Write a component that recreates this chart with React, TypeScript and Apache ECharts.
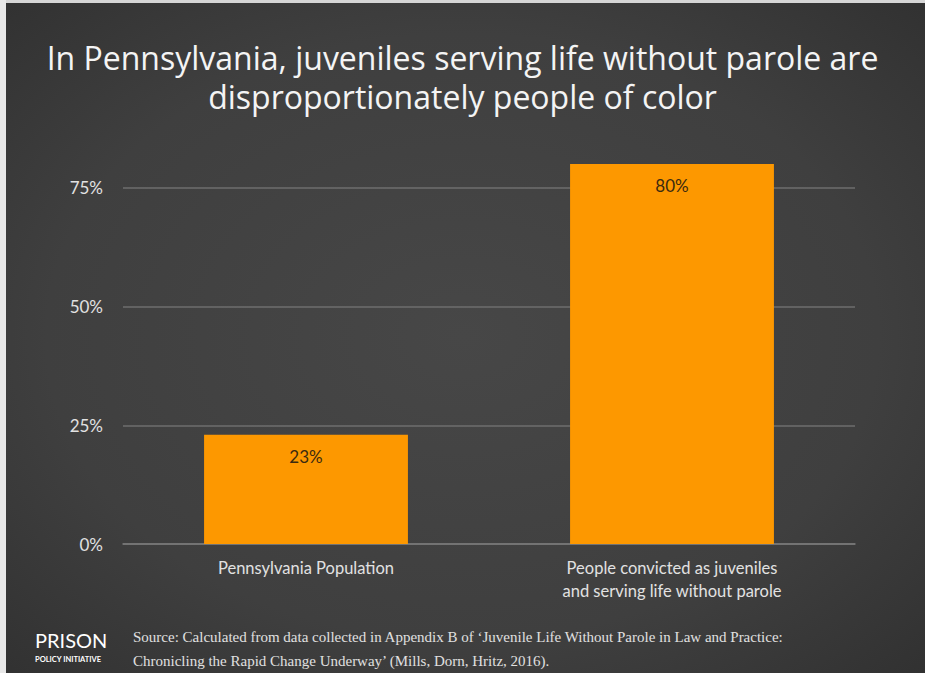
import React, { useEffect, useRef } from "react";
import * as echarts from "echarts";

const categories = [
  "Pennsylvania Population",
  "People convicted as juveniles\nand serving life without parole",
];
const values = [23, 80];
const yTicks = [0, 25, 50, 75];
const titleLines = [
  "In Pennsylvania, juveniles serving life without parole are",
  "disproportionately people of color",
];
const sourceLines = [
  "Source: Calculated from data collected in Appendix B of \u2018Juvenile Life Without Parole in Law and Practice:",
  "Chronicling the Rapid Change Underway\u2019 (Mills, Dorn, Hritz, 2016).",
];

export default function App() {
  const ref = useRef<HTMLDivElement>(null);
  useEffect(() => {
    document.body.style.margin = "0";
    const chart = echarts.init(ref.current!, null, { renderer: "svg" });
    chart.setOption({
      animation: false,
      backgroundColor: {
        type: "radial",
        x: 0.5,
        y: 0.5,
        r: 0.75,
        colorStops: [
          { offset: 0, color: "#474747" },
          { offset: 0.6, color: "#3f3f3f" },
          { offset: 1, color: "#2f2f2f" },
        ],
      },
      title: {
        text: titleLines.join("\n"),
        left: "center",
        top: 33,
        textStyle: {
          color: "#f4f4f4",
          fontFamily: "Open Sans",
          fontWeight: "normal",
          fontSize: 32,
          lineHeight: 39,
        },
      },
      grid: { left: 123, right: 70, top: 164, bottom: 129 },
      xAxis: {
        type: "category",
        data: categories,
        axisLine: { show: true, lineStyle: { color: "#7a7a7a", width: 1.5 } },
        axisTick: { show: false },
        axisLabel: {
          color: "#e2e2e2",
          fontFamily: "Lato",
          fontSize: 16.5,
          lineHeight: 23,
          margin: 12,
        },
      },
      yAxis: {
        type: "value",
        min: 0,
        max: 80,
        interval: 25,
        axisLine: { show: false },
        axisTick: { show: false },
        splitLine: { show: true, showMaxLine: false, lineStyle: { color: "#6e6e6e", width: 1.5 } },
        axisLabel: {
          showMaxLabel: false,
          color: "#e2e2e2",
          fontFamily: "Lato",
          fontSize: 17,
          margin: 20,
          formatter: (v: number) => (yTicks.includes(v) ? v + "%" : ""),
        },
      },
      series: [
        {
          type: "bar",
          data: values,
          barWidth: "55.7%",
          itemStyle: { color: "#fd9800" },
          label: {
            show: true,
            position: "insideTop",
            distance: 13,
            formatter: "{c}%",
            color: "#3a2a10",
            fontFamily: "Lato",
            fontSize: 17,
          },
        },
      ],
      graphic: [
        { type: "rect", shape: { x: 0, y: 0, width: 925, height: 3 }, style: { fill: "#d6d6d6" } },
        { type: "rect", shape: { x: 0, y: 0, width: 6, height: 673 }, style: { fill: "#e8e8e8" } },
        {
          type: "text",
          left: 35,
          top: 630,
          style: { text: "PRISON", fill: "#ffffff", font: "20px Lato" },
        },
        {
          type: "text",
          left: 35,
          top: 655,
          style: { text: "POLICY INITIATIVE", fill: "#ffffff", font: "bold 7.5px Lato" },
        },
        {
          type: "text",
          left: 133,
          top: 625,
          style: {
            text: sourceLines.join("\n"),
            fill: "#e0e0e0",
            font: "15px 'Liberation Serif'",
            lineHeight: 24,
          },
        },
      ],
    });
    return () => chart.dispose();
  }, []);
  return <div ref={ref} style={{ width: 925, height: 673 }} />;
}
